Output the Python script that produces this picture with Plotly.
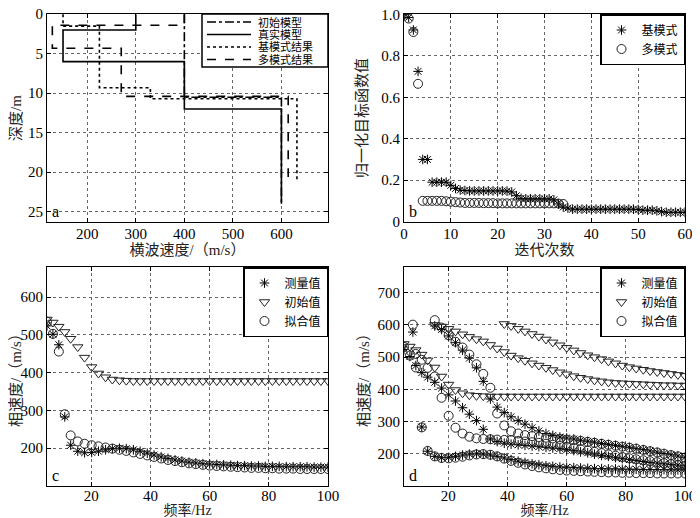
import plotly.graph_objects as go

SERIF = "Liberation Serif, Noto Sans CJK SC, serif"

# ---- panel a: layered shear-wave models (velocity m/s, layer top/bottom depth m)
init_vs = [400, 600]
init_depth = [0, 10.5, 24]
true_vs = [300, 150, 400, 600]
true_depth = [0, 2, 6, 12, 24]
fund_vs = [150, 225, 330, 632]
fund_depth = [0, 1.5, 9.3, 10.7, 21.2]
multi_vs = [400, 128, 270, 614]
multi_depth = [0, 1.4, 4.3, 10.4, 20.6]

# ---- panel b: normalised objective function vs iteration
iters = [0, 1, 2, 3, 4, 5, 6, 7, 8, 9, 10, 11, 12, 13, 14, 15, 16, 17, 18, 19, 20,
         21, 22, 23, 24, 25, 26, 27, 28, 29, 30, 31, 32, 33, 34, 35, 36, 37, 38, 39, 40,
         41, 42, 43, 44, 45, 46, 47, 48, 49, 50, 51, 52, 53, 54, 55, 56, 57, 58, 59, 60]
obj_fund = [1.0, 0.985, 0.925, 0.725, 0.30, 0.30, 0.19, 0.19, 0.19, 0.19, 0.175,
            0.16, 0.152, 0.15, 0.148, 0.148, 0.148, 0.148, 0.148, 0.148, 0.148,
            0.148, 0.147, 0.143, 0.125, 0.112, 0.11, 0.11, 0.11, 0.11, 0.11,
            0.11, 0.105, 0.085, 0.07, 0.065, 0.06, 0.06, 0.06, 0.06, 0.06,
            0.06, 0.06, 0.06, 0.06, 0.06, 0.06, 0.06, 0.06, 0.06, 0.058,
            0.055, 0.055, 0.055, 0.052, 0.048, 0.045, 0.045, 0.045, 0.045, 0.045]
obj_multi = [1.0, 0.98, 0.915, 0.665, 0.10, 0.10, 0.10, 0.10, 0.10, 0.098, 0.096,
             0.094, 0.092, 0.09, 0.09, 0.09, 0.09, 0.089, 0.089, 0.089, 0.088,
             0.088, 0.088, 0.088, 0.088, 0.088, 0.088, 0.088, 0.088, 0.088, 0.088,
             0.088, 0.088, 0.087, 0.085]

# ---- panels c, d: dispersion curves (frequency Hz, phase velocity m/s)
freq = [5, 7, 9, 11, 13, 15.4, 17.7, 20.1, 22.4, 24.8, 27.1, 29.5, 31.8, 34.2, 36.5,
        38.9, 41.2, 43.6, 45.9, 48.3, 50.6, 53, 55.3, 57.7, 60, 62.4, 64.7, 67.1, 69.4,
        71.8, 74.1, 76.5, 78.8, 81.2, 83.5, 85.9, 88.2, 90.6, 92.9, 95.3, 97.6, 100]
init_m0 = [541, 533, 522, 508, 490, 468, 440, 415, 398, 388, 382, 380, 379, 378, 378,
           378, 378, 378, 378, 378, 378, 378, 378, 378, 378, 378, 378, 378, 378,
           378, 378, 378, 378, 378, 378, 378, 378, 378, 378, 378, 378, 378]
meas_m0 = [524, 502, 474, 283, 208, 192, 188, 189, 192, 196, 199, 200, 199, 196, 192,
           187, 182, 177, 173, 169, 166, 163, 161, 159, 158, 157, 156, 155, 154,
           154, 153, 153, 152, 152, 152, 151, 151, 151, 151, 150, 150, 150]
fit_c = [535, 503, 456, 290, 234, 218, 212, 208, 205, 202, 199, 196, 193, 189, 185,
         181, 177, 173, 169, 166, 163, 160, 158, 156, 154, 153, 152, 151, 150,
         149, 148, 148, 147, 147, 146, 146, 146, 145, 145, 145, 145, 145]
fit_d_m0 = [532, 505, 468, 282, 209, 192, 187, 186, 188, 191, 195, 198, 199, 197, 192,
            185, 178, 172, 167, 162, 158, 155, 152, 150, 148, 147, 146, 145, 144,
            143, 142, 142, 141, 141, 140, 140, 140, 139, 139, 139, 139, 139]
init_m1 = [None, None, None, None, None, 600, 595, 588, 580, 571, 563, 556, 549, 538, 527,
           516, 505, 497, 489, 481, 474, 467, 460, 453, 447, 441, 436, 432, 428,
           425, 422, 420, 419, 418, 417, 416, 415, 414, 413, 413, 412, 412]
init_m2 = [None, None, None, None, None, None, None, None, None, None, None, None, None,
           None, None, 603, 597, 588, 580, 572, 564, 555, 546, 537, 529, 521, 513,
           506, 500, 494, 487, 481, 474, 469, 465, 461, 457, 454, 451, 448, 445, 442]
meas_mid = [None, None, None, 452, 438, 422, 404, 383, 364, 343, 323, 303, 276, 246, 238,
            233, 230, 228, 226, 224, 222, 220, 218, 216, 213, 210, 206, 203, 199,
            195, 192, 188, 185, 182, 179, 176, 173, 171, 169, 167, 165, 163]
fit_mid = [None, None, 510, 492, 467, 440, 374, 318, 281, 263, 253, 248, 246, 245, 244,
           243, 242, 240, 238, 236, 234, 231, 228, 225, 222, 218, 214, 210, 206,
           202, 198, 194, 190, 186, 183, 180, 177, 174, 171, 168, 165, 162]
freq_up = [8, 15.4, 17.7, 20.1, 22.4, 24.8, 27.1, 29.5, 31.8, 34.2, 36.5, 38.9, 41.2,
           43.6, 45.9, 48.3, 50.6, 53, 55.3, 57.7, 60, 62.4, 64.7, 67.1, 69.4, 71.8,
           74.1, 76.5, 78.8, 81.2, 83.5, 85.9, 88.2, 90.6, 92.9, 95.3, 97.6, 100]
meas_up = [578, 597, 586, 566, 545, 522, 497, 467, 425, 370, 345, 328, 315, 303, 292,
           281, 271, 263, 257, 252, 249, 246, 242, 239, 236, 232, 229, 226, 223,
           220, 216, 213, 209, 205, 201, 197, 193, 189]
fit_up = [601, 615, 592, 568, 548, 530, 508, 478, 448, 405, 325, 288, 270, 263, 258,
          255, 252, 250, 248, 246, 244, 242, 240, 237, 234, 231, 228, 225, 222,
          219, 216, 212, 208, 204, 200, 196, 192, 188]

model_legend = ["初始模型", "真实模型", "基模式结果", "多模式结果"]
model_dash = ["dashdot", "solid", "dot", "dash"]

# the page keeps the browser's 8px body margin; figure fills the rest of the window
W, H, OFF = 692, 510, 8


def fx(px):
    return (px - OFF) / W


def fy(py):
    return 1 - (py - OFF) / H


def steps(vs, depth):
    x, y = [], []
    for i, v in enumerate(vs):
        x += [v, v]
        y += [depth[i], depth[i + 1]]
    return x, y


fig = go.Figure()

# panel a
models = [(init_vs, init_depth), (true_vs, true_depth), (fund_vs, fund_depth), (multi_vs, multi_depth)]
for name, (vs, dep), dash in zip(model_legend, models, model_dash):
    x, y = steps(vs, dep)
    fig.add_trace(go.Scatter(x=x, y=y, mode="lines", name=name, showlegend=False,
                             line=dict(color="black", width=1.6, dash=dash),
                             xaxis="x", yaxis="y"))

star = dict(symbol="asterisk-open", size=8, color="black", line=dict(color="black", width=1))
circ = dict(symbol="circle-open", size=9, color="#222", line=dict(color="#222", width=1))
tri = dict(symbol="triangle-down-open", size=9, color="#222", line=dict(color="#222", width=1))

# panel b
fig.add_trace(go.Scatter(x=iters, y=obj_fund, mode="markers", name="基模式", marker=star,
                         legend="legend2", xaxis="x2", yaxis="y2"))
fig.add_trace(go.Scatter(x=iters[:len(obj_multi)], y=obj_multi, mode="markers", name="多模式",
                         marker=circ, legend="legend2", xaxis="x2", yaxis="y2"))

# panel c
fig.add_trace(go.Scatter(x=freq, y=meas_m0, mode="markers", name="测量值", marker=star,
                         legend="legend3", xaxis="x3", yaxis="y3"))
fig.add_trace(go.Scatter(x=freq, y=init_m0, mode="markers", name="初始值", marker=tri,
                         legend="legend3", xaxis="x3", yaxis="y3"))
fig.add_trace(go.Scatter(x=freq, y=fit_c, mode="markers", name="拟合值", marker=circ,
                         legend="legend3", xaxis="x3", yaxis="y3"))

# panel d
d_series = [
    ("测量值", freq, meas_m0, star, True),
    ("测量值", freq, meas_mid, star, False),
    ("测量值", freq_up, meas_up, star, False),
    ("初始值", freq, init_m0, tri, True),
    ("初始值", freq, init_m1, tri, False),
    ("初始值", freq, init_m2, tri, False),
    ("拟合值", freq, fit_d_m0, circ, True),
    ("拟合值", freq, fit_mid, circ, False),
    ("拟合值", freq_up, fit_up, circ, False),
]
for name, fxs, fys, mk, show in d_series:
    fig.add_trace(go.Scatter(x=fxs, y=fys, mode="markers", name=name, marker=mk,
                             showlegend=show, legend="legend4", xaxis="x4", yaxis="y4"))


def axis(domain, rng, tickvals, title, anchor, ticktext=None, standoff=4, labelshift=0,
         titlesize=15):
    d = dict(domain=domain, range=rng, tickvals=tickvals, anchor=anchor,
             showline=True, linecolor="black", linewidth=1, mirror="allticks",
             ticks="inside", ticklen=4, tickcolor="black", ticklabeloverflow="allow",
             ticklabelstandoff=labelshift,
             showgrid=True, gridcolor="#666", griddash="dot", gridwidth=1,
             zeroline=False, automargin=False,
             tickfont=dict(family=SERIF, size=15, color="black"),
             title=dict(text=title, standoff=standoff,
                        font=dict(family=SERIF, size=titlesize, color="#222")))
    if ticktext is not None:
        d["ticktext"] = ticktext
    return d


TOP = 14
top = [fy(222), fy(TOP)]
bot = [fy(486), fy(267)]
left = [fx(47), fx(328)]
right = [fx(404), fx(685)]

legend_style = dict(bgcolor="white", bordercolor="black", borderwidth=1.5,
                    font=dict(family=SERIF, size=12, color="black"),
                    xanchor="right", yanchor="top", tracegroupgap=0)

fig.update_layout(
    width=W, height=H,
    margin=dict(l=0, r=0, t=0, b=0),
    paper_bgcolor="white", plot_bgcolor="white",
    font=dict(family=SERIF, color="black"),
    xaxis=axis(left, [117, 696], [200, 300, 400, 500, 600], "横波速度/（m/s）", "y",
               standoff=2, labelshift=-2),
    yaxis=axis(top, [26.3, -0.03], [0, 5, 10, 15, 20, 25], "深度/m", "x"),
    xaxis2=axis(right, [0, 60], [0, 10, 20, 30, 40, 50, 60], "迭代次数", "y2",
                standoff=2, labelshift=-2),
    yaxis2=axis(top, [-0.002, 1.002], [0, 0.2, 0.4, 0.6, 0.8, 1.0], "归一化目标函数值", "x2",
                ticktext=["0", "0.2", "0.4", "0.6", "0.8", "1.0"], standoff=10),
    xaxis3=axis(left, [5, 100], [20, 40, 60, 80, 100], "频率/Hz", "y3",
                standoff=6, labelshift=-4, titlesize=14),
    yaxis3=axis(bot, [100, 680], [200, 300, 400, 500, 600], "相速度/（m/s）", "x3"),
    xaxis4=axis(right, [5, 100], [20, 40, 60, 80, 100], "频率/Hz", "y4",
                standoff=6, labelshift=-4, titlesize=14),
    yaxis4=axis(bot, [100, 780], [200, 300, 400, 500, 600, 700], "相速度/（m/s）", "x4"),
    legend2=dict(x=right[1], y=top[1], **legend_style),
    legend3=dict(x=left[1], y=bot[1], **legend_style),
    legend4=dict(x=right[1], y=bot[1], **legend_style),
)

# compact legend box for panel a (line samples + labels)
fig.add_shape(type="rect", xref="paper", yref="paper", x0=fx(202), x1=fx(328),
              y0=fy(TOP + 53), y1=fy(TOP), line=dict(color="black", width=1.5),
              fillcolor="white", layer="above")
for i, (label, dash) in enumerate(zip(model_legend, model_dash)):
    yc = fy(TOP + 8 + 12.5 * i)
    fig.add_shape(type="line", xref="paper", yref="paper", x0=fx(207), x1=fx(251),
                  y0=yc, y1=yc, line=dict(color="black", width=1.6, dash=dash), layer="above")
    fig.add_annotation(text=label, xref="paper", yref="paper", x=fx(256), y=yc,
                       xanchor="left", yanchor="middle", showarrow=False,
                       font=dict(family=SERIF, size=11, color="black"))

for letter, xr, yr in [("a", "x", "y"), ("b", "x2", "y2"), ("c", "x3", "y3"), ("d", "x4", "y4")]:
    fig.add_annotation(text=letter, xref=xr + " domain", yref=yr + " domain",
                       x=0.01, y=0.0, xanchor="left", yanchor="bottom", showarrow=False,
                       font=dict(family=SERIF, size=16, color="black"))

fig.write_html("out.html")
